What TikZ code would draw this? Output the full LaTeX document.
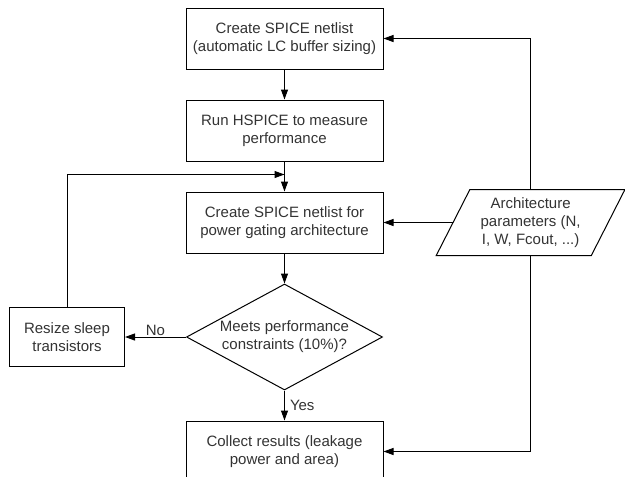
\documentclass[tikz,border=0pt]{standalone}
\usepackage{fontspec}
\setmainfont{Liberation Sans}
\usetikzlibrary{arrows.meta,positioning,shapes.geometric}

\begin{document}
\begin{tikzpicture}[
    x=1pt,y=1pt,
    font=\fontsize{15}{18}\selectfont,
    node distance=30pt and 61pt,
    proc/.style={rectangle,draw,line width=1pt,align=center,text=black!80,minimum width=197pt,minimum height=61pt,inner sep=2pt},
    decide/.style={diamond,draw,line width=1pt,align=center,text=black!80,aspect=1.85,minimum width=196pt,minimum height=106pt,inner sep=0pt},
    io/.style={trapezium,trapezium left angle=61,trapezium right angle=119,trapezium stretches=true,draw,line width=1pt,align=center,text=black!80,minimum width=189pt,minimum height=66pt,inner sep=0pt},
    lbl/.style={text=black!80,inner sep=1pt},
    arr/.style={-{Triangle[length=10pt,width=7pt]},line width=1pt}
]
\useasboundingbox (0,0) rectangle (625,-477);
\node[proc] (netlist) at (284.5,-38.5) {Create SPICE netlist\\(automatic LC buffer sizing)};
\node[proc,below=of netlist] (hspice) {Run HSPICE to measure\\performance};
\node[proc,below=of hspice] (gating) {Create SPICE netlist for\\power gating architecture};
\node[decide,below=of gating] (meets) {Meets performance\\constraints (10\%)?};
\node[proc,below=of meets] (collect) {Collect results (leakage\\power and area)};
\node[proc,left=of meets,minimum width=115pt,minimum height=59pt] (resize) {Resize sleep\\transistors};
\node[io,right=69pt of gating] (params) {Architecture\\parameters (N,\\I, W, Fcout, ...)};
\coordinate[below=13pt of hspice.south] (merge);

\draw[arr] (netlist)--(hspice); \draw[arr] (hspice)--(gating);
\draw[arr] (gating)--(meets);
\draw[arr] (meets) -- node[lbl,right=4pt]{Yes} (collect);
\draw[arr] (meets) -- node[lbl,above]{No} (resize);
\draw[arr] (resize.north) |- (merge);
\draw[arr] (params.north) |- (netlist.east);
\draw[arr] (params.south) |- (collect.east);
\draw[arr] (params.west) -- (gating.east);
\end{tikzpicture}
\end{document}
